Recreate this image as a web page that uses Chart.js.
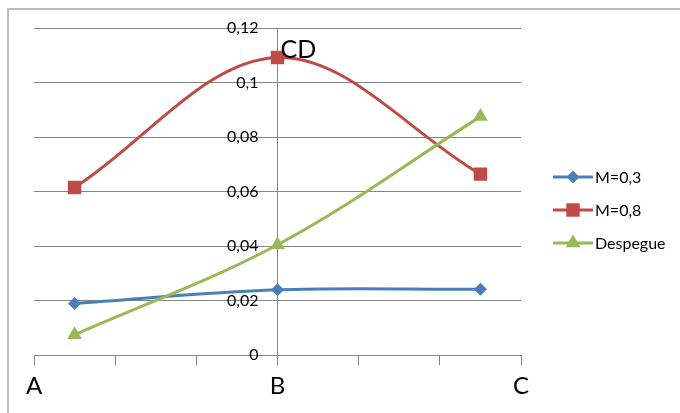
<!DOCTYPE html>
<html>
<head>
<meta charset="utf-8">
<script src="https://cdn.jsdelivr.net/npm/chart.js@4"></script>
<style>
    html, body { margin: 0; padding: 0; background: #fff; }
    .wrap { position: relative; width: 680px; height: 413px; overflow: hidden; }
    .frame {
        position: absolute; left: 7px; top: 8px; width: 720px; height: 460px;
        border-left: 2px solid #bcbcbc; border-top: 2px solid #bcbcbc;
    }
    canvas { position: absolute; left: 0; top: 0; }
</style>
</head>
<body>
<div class="wrap">
    <div class="frame"></div>
    <canvas id="chart" width="680" height="413"></canvas>
</div>
<script>
// CD chart - smoothed lines, y axis crossing at B

const xLabels = ['A', 'B', 'C'];          // shown at x = 0, 3, 6
const xPositions = [0.5, 3, 5.5];         // where the points sit
const seriesNames = ['M=0,3', 'M=0,8', 'Despegue'];
const m03 = [0.019, 0.024, 0.0242];
const m08 = [0.0615, 0.1092, 0.0664];
const despegue = [0.0075, 0.0405, 0.0875];
const yTickLabels = ['0', '0,02', '0,04', '0,06', '0,08', '0,1', '0,12'];
const axisTitle = 'CD';

(function() {
    'use strict';

    const FONT = 'Lato, "Open Sans", sans-serif';
    const GRID = '#868686';

    function points(values) {
        return values.map((v, i) => ({ x: xPositions[i], y: v }));
    }

    function series(label, values, color, style, radius, order) {
        return {
            label: label,
            data: points(values),
            borderColor: color,
            backgroundColor: color,
            borderWidth: 3,
            tension: 0.35,
            pointStyle: style,
            pointRadius: radius,
            pointHoverRadius: radius,
            pointBorderWidth: 0,
            pointBackgroundColor: color,
            order: order
        };
    }

    const datasets = [
        series(seriesNames[0], m03, '#4a7ebb', 'rectRot', 6.5, 3),
        series(seriesNames[1], m08, '#be4b48', 'rect', 9.5, 2),
        series(seriesNames[2], despegue, '#98b954', 'triangle', 8.5, 1)
    ];

    // legend on the right: short line with the marker in the middle
    const sideLegend = {
        id: 'sideLegend',
        afterDraw(chart) {
            const ctx = chart.ctx;
            const area = chart.chartArea;
            const x0 = area.right + 32;
            const lineW = 40;
            ctx.save();
            chart.data.datasets.forEach((ds, i) => {
                const y = area.top + 149 + i * 33;
                ctx.strokeStyle = ds.borderColor;
                ctx.lineWidth = 3;
                ctx.beginPath();
                ctx.moveTo(x0, y);
                ctx.lineTo(x0 + lineW, y);
                ctx.stroke();
                ctx.fillStyle = ds.backgroundColor;
                Chart.helpers.drawPoint(ctx, {
                    pointStyle: ds.pointStyle,
                    radius: ds.pointRadius,
                    rotation: 0,
                    borderWidth: 0
                }, x0 + lineW / 2, y);
                ctx.fillStyle = '#000';
                ctx.font = '16px ' + FONT;
                ctx.textBaseline = 'middle';
                ctx.textAlign = 'left';
                ctx.fillText(ds.label, x0 + lineW + 2, y + 1);
            });
            ctx.restore();
        }
    };

    // y tick labels left of the crossing axis, and "CD" next to its top
    // (chart.js ignores ticks.padding when the axis sits at {x: value})
    const axisText = {
        id: 'axisText',
        afterDraw(chart) {
            const ctx = chart.ctx;
            const xs = chart.scales.x;
            const ys = chart.scales.y;
            const axisX = xs.getPixelForValue(3);
            ctx.save();
            ctx.fillStyle = '#000';
            ctx.font = '16px ' + FONT;
            ctx.textAlign = 'right';
            ctx.textBaseline = 'middle';
            ys.ticks.forEach(t => {
                ctx.fillText(yTickLabels[Math.round(t.value / 0.02)], axisX - 19, ys.getPixelForValue(t.value));
            });
            ctx.font = '25px ' + FONT;
            ctx.textAlign = 'left';
            ctx.textBaseline = 'alphabetic';
            ctx.fillText(axisTitle, axisX + 3, ys.getPixelForValue(0.12) + 30);
            ctx.restore();
        }
    };

    new Chart(document.getElementById('chart'), {
        type: 'line',
        data: { datasets: datasets },
        plugins: [sideLegend, axisText],
        options: {
            responsive: false,
            animation: false,
            layout: {
                padding: { left: 34, top: 28, right: 159, bottom: 5 }
            },
            plugins: {
                legend: { display: false },
                tooltip: { enabled: false }
            },
            scales: {
                x: {
                    type: 'linear',
                    min: 0,
                    max: 6,
                    position: 'bottom',
                    grid: {
                        drawOnChartArea: false,
                        color: GRID,
                        tickLength: 10
                    },
                    border: { color: GRID },
                    ticks: {
                        stepSize: 1,
                        autoSkip: false,
                        maxRotation: 0,
                        padding: 7,
                        color: '#000',
                        font: { family: FONT, size: 24 },
                        callback: function(value) {
                            return value % 3 === 0 ? xLabels[value / 3] : '';
                        }
                    }
                },
                y: {
                    type: 'linear',
                    min: 0,
                    max: 0.12,
                    position: { x: 3 },
                    grid: {
                        color: GRID,
                        drawTicks: false
                    },
                    border: { color: GRID },
                    ticks: {
                        stepSize: 0.02,
                        display: false
                    }
                }
            }
        }
    });
})();
</script>
</body>
</html>
